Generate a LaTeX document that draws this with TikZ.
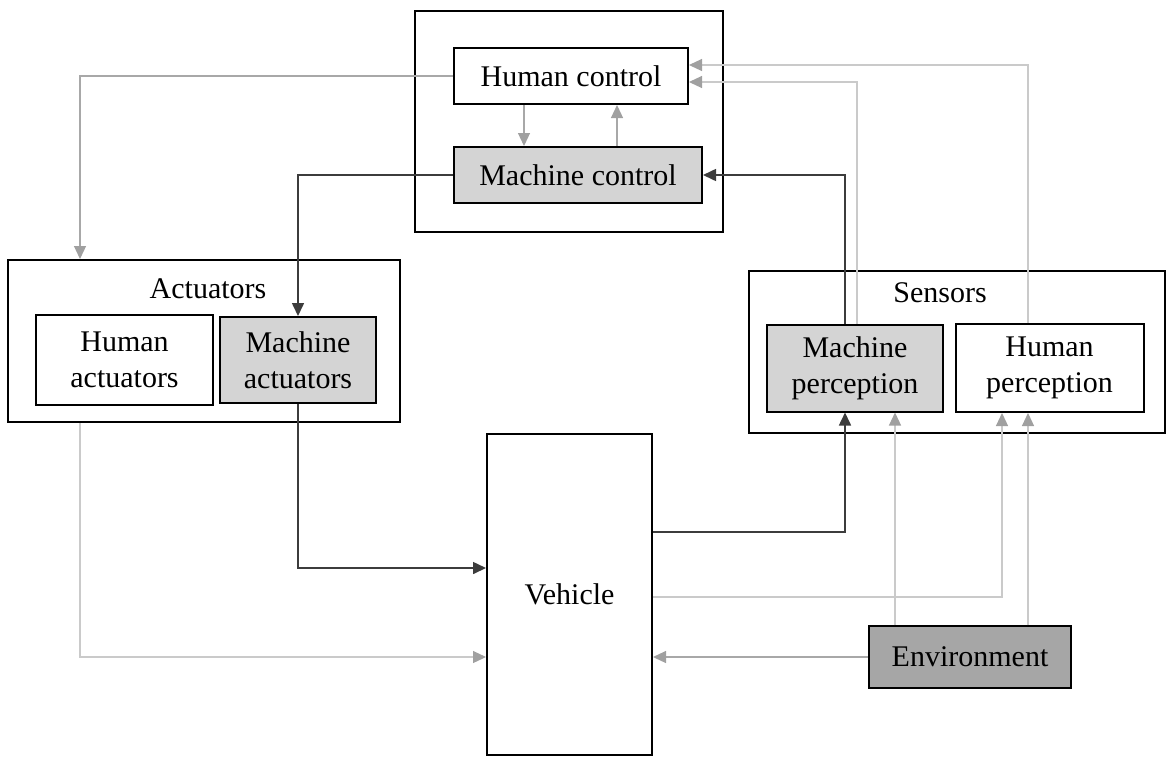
\documentclass[tikz,border=0pt]{standalone}
\usepackage{fontspec}
\setmainfont{Liberation Serif}
\usetikzlibrary{arrows.meta}

\definecolor{darkline}{HTML}{3C3C3C}
\definecolor{midline}{HTML}{A8A8A8}
\definecolor{lightline}{HTML}{CACACA}
\definecolor{tipgray}{HTML}{A0A0A0}
\definecolor{machinefill}{HTML}{D4D4D4}
\definecolor{envfill}{HTML}{A6A6A6}

\begin{document}
\begin{tikzpicture}[x=0.5pt, y=-0.5pt,
    block/.style={rectangle, draw, line width=1pt, inner sep=0pt, align=center, font=\fontsize{15}{18}\selectfont},
    group/.style={rectangle, draw, line width=1pt, inner sep=0pt},
    machine/.style={block, fill=machinefill},
    title/.style={inner sep=0pt, font=\fontsize{15}{18}\selectfont},
    darrow/.style={draw=darkline, line width=0.8pt, -{Triangle[length=6.5pt, width=6pt, color=darkline]}},
    garrow/.style={draw=midline, line width=0.6pt, -{Triangle[length=6.5pt, width=6pt, color=tipgray]}},
    lline/.style={draw=lightline, line width=0.6pt, -{Triangle[length=6.5pt, width=6pt, color=tipgray]}}]

    \useasboundingbox (0,0) rectangle (1170,756);

    % control
    \node [group, minimum width=154pt, minimum height=110.5pt] (control) at (569,121.5) {};
    \node [block, minimum width=117pt, minimum height=28pt] (hcontrol) at (571,76) {Human control};
    \node [machine, minimum width=124pt, minimum height=28pt] (mcontrol) at (578,175) {Machine control};

    % actuators
    \node [group, minimum width=196pt, minimum height=81pt] (actuators) at (204,341) {};
    \node [title] (actlabel) at (208,289) {Actuators};
    \node [block, minimum width=88.5pt, minimum height=45pt] (hact) at (124.5,360) {Human\\actuators};
    \node [machine, minimum width=78pt, minimum height=43pt] (mact) at (298,360) {Machine\\actuators};

    % sensors
    \node [group, minimum width=208pt, minimum height=81pt] (sensors) at (957,352) {};
    \node [title] (senlabel) at (940,293) {Sensors};
    \node [machine, minimum width=88pt, minimum height=43.5pt] (mperc) at (855,368) {Machine\\perception};
    \node [block, minimum width=94pt, minimum height=44pt] (hperc) at (1049.5,368) {Human\\perception};

    % vehicle and environment
    \node [block, minimum width=82.5pt, minimum height=160.5pt] (vehicle) at (569.5,594.5) {Vehicle};
    \node [block, fill=envfill, minimum width=101pt, minimum height=31pt] (env) at (970,657) {Environment};

    % inside control
    \path [garrow] ([xshift=-23.5pt]hcontrol.south) -- ([xshift=-23.5pt]hcontrol.south |- mcontrol.north);
    \path [garrow] ([xshift=23pt]hcontrol.south |- mcontrol.north) -- ([xshift=23pt]hcontrol.south);

    % control loop
    \path [darrow] (mcontrol.west) -| (mact.north);
    \path [darrow] ([xshift=-5pt]mperc.north) |- (mcontrol.east);
    \path [garrow] (hcontrol.west) -| ([xshift=-62pt]actuators.north);
    \path [lline] ([xshift=-10.75pt]hperc.north) |- ([yshift=5.5pt]hcontrol.east);
    \path [lline, {Triangle[length=6.5pt, width=6pt, color=tipgray]}-] ([yshift=-3pt]hcontrol.east) -| ([xshift=1pt]mperc.north);

    % actuators to vehicle
    \path [darrow] (mact.south) |- ([yshift=13.25pt]vehicle.west);
    \path [lline] ([xshift=-62pt]actuators.south) |- ([yshift=-31.25pt]vehicle.west);

    % vehicle to sensors
    \path [darrow] ([yshift=31.25pt]vehicle.east) -| ([xshift=-5pt]mperc.south);
    \path [lline] ([yshift=-1.25pt]vehicle.east) -| ([xshift=-23.75pt]hperc.south);

    % environment
    \path [lline] ([xshift=-37.5pt]env.north) -- ([xshift=-37.5pt]env.north |- mperc.south);
    \path [lline] ([xshift=29pt]env.north) -- ([xshift=29pt]env.north |- hperc.south);
    \path [garrow] (env.west) -- (env.west -| vehicle.east);
\end{tikzpicture}
\end{document}
